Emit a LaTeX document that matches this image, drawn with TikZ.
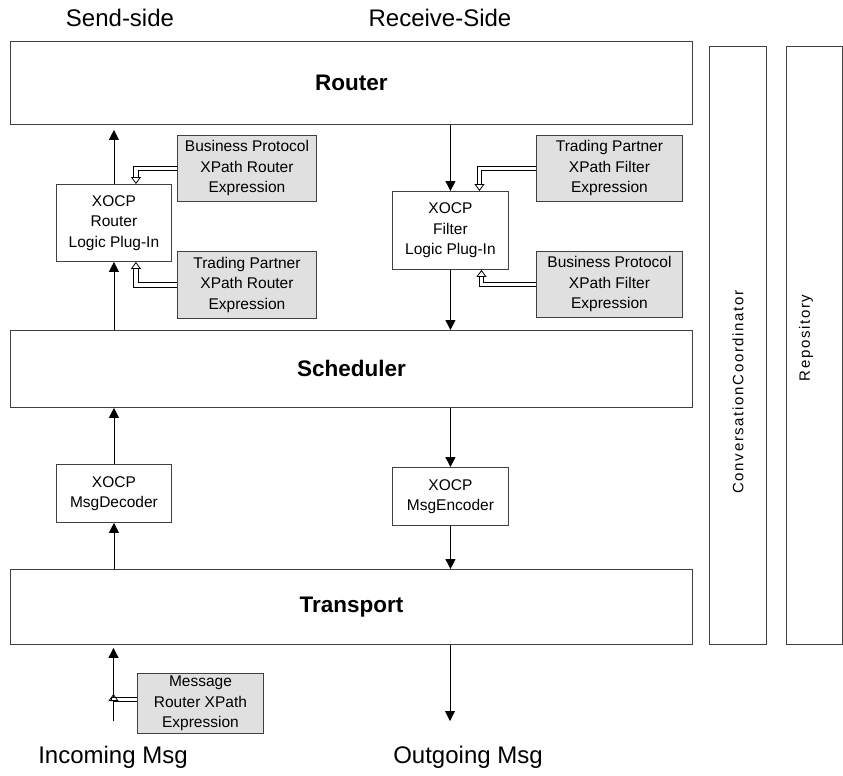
\documentclass[tikz,border=0pt]{standalone}
\usepackage{fontspec}
\setmainfont{Liberation Sans}
\newfontfamily\sidefont[LetterSpace=11]{Liberation Sans}
\usetikzlibrary{arrows.meta,positioning}

\begin{document}
\begin{tikzpicture}[
        x=1pt, y=-1pt,
        layer/.style={rectangle, draw=black!75, line width=0.9pt, fill=white, anchor=north west, inner sep=0pt, font=\fontsize{22.5}{25}\selectfont\bfseries},
        plugin/.style={rectangle, draw=black!75, line width=0.9pt, fill=white, anchor=north west, inner sep=0pt, align=center, font=\fontsize{15.5}{20.5}\selectfont},
        expr/.style={plugin, fill=black!12},
        sidebox/.style={rectangle, draw=black!75, line width=0.9pt, anchor=north west, inner sep=0pt, minimum width=57pt, minimum height=598pt},
        caption/.style={font=\fontsize{24}{26}\selectfont},
        flow/.style={-{Triangle[width=10pt,length=10pt]}, line width=0.9pt},
        feed/.style={double, double distance=3.5pt, line width=0.8pt, -{Triangle[open,width=10pt,length=7pt]}},
        ]
        \useasboundingbox (0,0) rectangle (843,776);

        % Main layers
        \node[layer, minimum width=682pt, minimum height=83pt] (router) at (10,41) {Router};
        \node[layer, minimum width=682pt, minimum height=77pt] (sched) at (10,330) {Scheduler};
        \node[layer, minimum width=682pt, minimum height=75pt] (trans) at (10,569) {Transport};

        % Side columns
        \node[sidebox] (coord) at (709,46) {};
        \node[sidebox, minimum width=56pt] (repo) at (786,46) {};
        \node[rotate=90, font=\sidefont\fontsize{15}{15}\selectfont] (coordtxt) at (738,392) {ConversationCoordinator};
        \node[rotate=90, font=\sidefont\fontsize{15}{15}\selectfont] (repotxt) at (806,338) {Repository};

        % Send side
        \node[plugin, minimum width=115pt, minimum height=77pt] (rlogic) at (56,184) {XOCP\\Router\\Logic Plug-In};
        \node[expr, minimum width=139pt, minimum height=66pt] (bpr) at (177,135) {Business Protocol\\XPath Router\\Expression};
        \node[expr, minimum width=139pt, minimum height=67pt] (tpr) at (177,251) {Trading Partner\\XPath Router\\Expression};
        \node[plugin, minimum width=115pt, minimum height=58pt] (decoder) at (56,464) {XOCP\\MsgDecoder};
        \node[expr, minimum width=126pt, minimum height=60pt] (mre) at (137,673) {Message\\Router XPath\\Expression};

        % Receive side
        \node[plugin, minimum width=116pt, minimum height=78pt] (flogic) at (392,191) {XOCP\\Filter\\Logic Plug-In};
        \node[expr, minimum width=146pt, minimum height=66pt] (tpf) at (536,135) {Trading Partner\\XPath Filter\\Expression};
        \node[expr, minimum width=146pt, minimum height=66pt] (bpf) at (536,251) {Business Protocol\\XPath Filter\\Expression};
        \node[plugin, minimum width=116pt, minimum height=58pt] (encoder) at (392,467) {XOCP\\MsgEncoder};

        % Captions
        \node[caption] (send) at (120,18) {Send-side};
        \node[caption] (recv) at (440,18) {Receive-Side};
        \node[caption] (incoming) at (113,757) {Incoming Msg};
        \node[caption] (outgoing) at (468,757) {Outgoing Msg};

        \coordinate (inc) at (113.5,721);
        \coordinate (join) at (113.5,694);
        \coordinate (out) at (450,721);

        % Message flow
        \draw[flow, shorten >=3pt] (inc) -- (inc |- trans.south);
        \draw[flow] (decoder.south |- trans.north) -- (decoder.south);
        \draw[flow] (decoder.north) -- (decoder.north |- sched.south);
        \draw[flow] (rlogic.south |- sched.north) -- (rlogic.south);
        \draw[flow, shorten >=5pt] (rlogic.north) -- (rlogic.north |- router.south);

        \draw[flow] (flogic.north |- router.south) -- (flogic.north);
        \draw[flow] (flogic.south) -- (flogic.south |- sched.north);
        \draw[flow] (encoder.north |- sched.south) -- (encoder.north);
        \draw[flow] (encoder.south) -- (encoder.south |- trans.north);
        \draw[flow] (out |- trans.south) -- (out);

        % Expressions feeding the plug-ins
        \draw[feed] (bpr.west) -| ([xshift=22pt]rlogic.north);
        \draw[feed] (tpr.west) -| ([xshift=22pt]rlogic.south);
        \draw[feed] (tpf.west) -| ([xshift=29pt]flogic.north);
        \draw[feed] (bpf.west) -| ([xshift=31pt]flogic.south);
        \draw[feed] ([yshift=4pt]mre.west) -| (join);

\end{tikzpicture}
\end{document}
